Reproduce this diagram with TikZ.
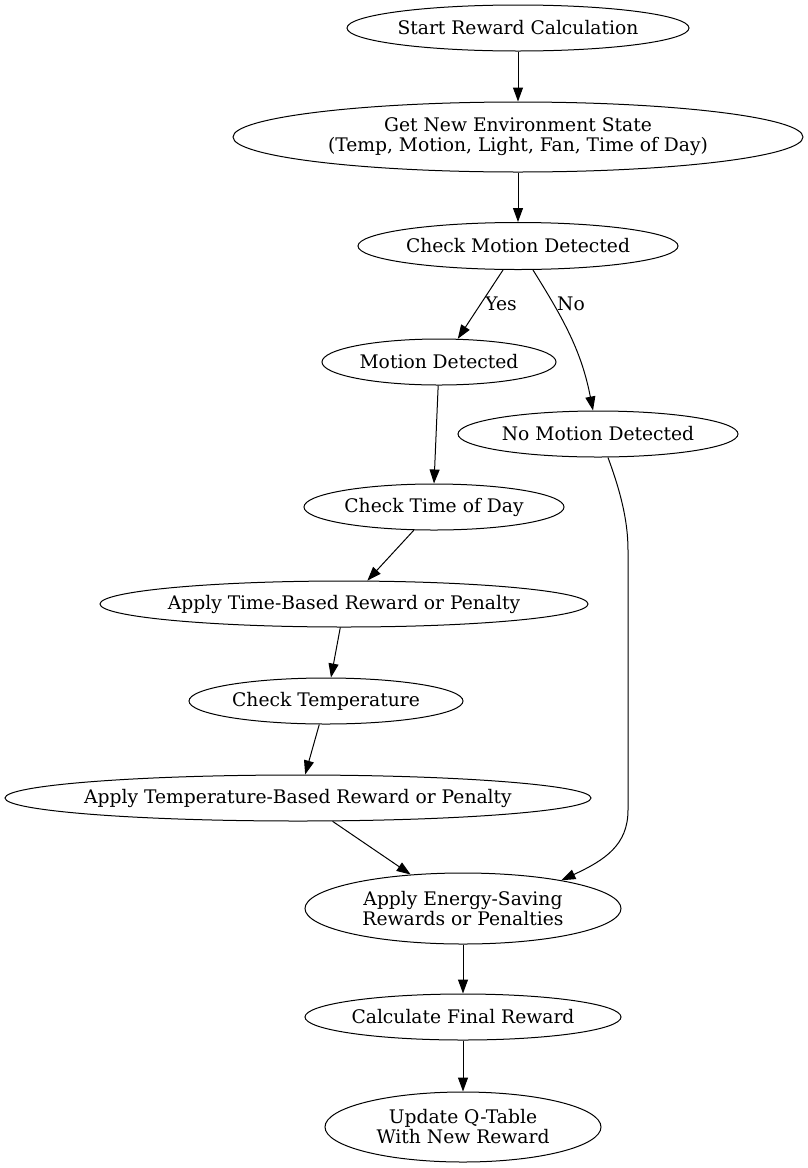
\documentclass[tikz,border=0pt]{standalone}
\usepackage{fontspec}
\setmainfont{DejaVu Serif}
\usetikzlibrary{arrows.meta,shapes.geometric}
\begin{document}
\begin{tikzpicture}[x=1pt,y=-1pt,
  every node/.style={font=\fontsize{18.7}{20}\selectfont},
  st/.style={ellipse,draw,line width=1pt,inner xsep=-150pt,inner ysep=-30pt,align=center},
  edge/.style={draw,line width=1pt,-{Triangle[length=14pt,width=10pt]}},
  lbl/.style={inner sep=0pt}]
\useasboundingbox (0,0) rectangle (808,1168);
% states
\node[st,minimum width=342pt,minimum height=46pt] (start) at (518,28) {Start Reward Calculation};
\node[st,minimum width=570pt,minimum height=70pt] (getstate) at (518,137) {Get New Environment State\\(Temp, Motion, Light, Fan, Time of Day)};
\node[st,minimum width=320pt,minimum height=47pt] (checkmotion) at (518,246) {Check Motion Detected};
\node[st,minimum width=234pt,minimum height=46pt] (motion) at (439,362) {Motion Detected};
\node[st,minimum width=280pt,minimum height=46pt] (nomotion) at (598,434) {No Motion Detected};
\node[st,minimum width=260pt,minimum height=46pt] (checktime) at (434,507) {Check Time of Day};
\node[st,minimum width=488pt,minimum height=46pt] (timereward) at (344,604) {Apply Time-Based Reward or Penalty};
\node[st,minimum width=274pt,minimum height=46pt] (checktemp) at (326,701) {Check Temperature};
\node[st,minimum width=586pt,minimum height=46pt] (tempreward) at (298,798) {Apply Temperature-Based Reward or Penalty};
\node[st,minimum width=316pt,minimum height=71pt] (energy) at (463,908.5) {Apply Energy-Saving\\Rewards or Penalties};
\node[st,minimum width=316pt,minimum height=46pt] (final) at (463,1017) {Calculate Final Reward};
\node[st,minimum width=276pt,minimum height=70pt] (qtable) at (463,1127) {Update Q-Table\\With New Reward};
% bend points of the no-motion branch
\coordinate (nm1) at (628,550);
\coordinate (nm2) at (628,810);
% connectors
\draw[edge] (start.south) -- (getstate.north);
\draw[edge] (getstate.south) -- (checkmotion.north);
\draw[edge] (checkmotion.238) -- (motion.51);
\draw[edge] (checkmotion.302) to[out=-58,in=101] (nomotion.102);
\node[lbl] (yes) at (501,304) {Yes};
\node[lbl] (no) at (571,304) {No};
\draw[edge] (motion.268) -- (checktime.north);
\draw[edge] (nomotion.293) .. controls (620,490) and (628,520) .. (nm1) -- (nm2) .. controls (628,845) and (605,860) .. (energy.16);
\draw[edge] (checktime.229) -- (timereward.45);
\draw[edge] (timereward.261) -- (checktemp.78);
\draw[edge] (checktemp.254) -- (tempreward.73);
\draw[edge] (tempreward.326) -- (energy.147);
\draw[edge] (energy.south) -- (final.north);
\draw[edge] (final.south) -- (qtable.north);
\end{tikzpicture}
\end{document}
